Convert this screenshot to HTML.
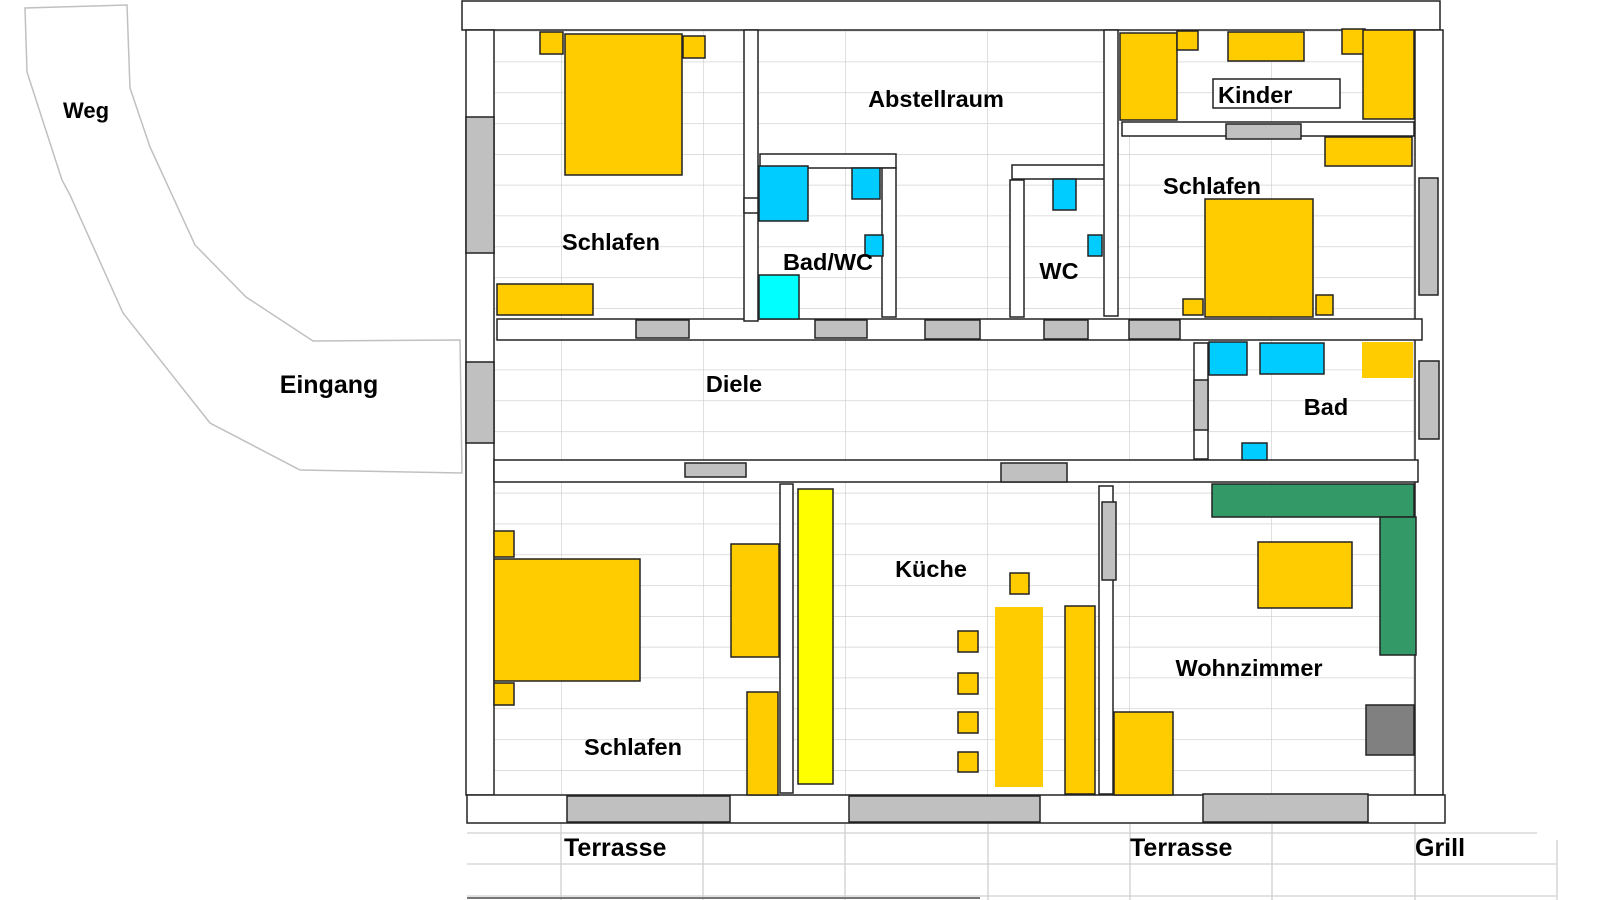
<!DOCTYPE html>
<html><head><meta charset="utf-8"><style>
html,body{margin:0;padding:0;background:#fff;}
svg{display:block;}
text{font-family:"Liberation Sans",Arial,sans-serif;font-weight:bold;fill:#000;}
</style></head><body>
<svg width="1600" height="900" viewBox="0 0 1600 900" xmlns="http://www.w3.org/2000/svg">
<defs>
<pattern id="g" x="419" y="0" width="142" height="30.8" patternUnits="userSpaceOnUse">
<path d="M0 0V30.8M0 0H142" stroke="#cbcbcb" stroke-width="1.2" fill="none"/>
</pattern>
</defs>
<rect x="494" y="30" width="921" height="765" fill="url(#g)"/>
<g stroke="#d0d0d0" stroke-width="1.3">
<line x1="467" y1="833" x2="1537" y2="833"/>
<line x1="467" y1="864" x2="1557" y2="864"/>
<line x1="467" y1="896" x2="1557" y2="896"/>
<line x1="561" y1="823" x2="561" y2="900"/>
<line x1="703" y1="823" x2="703" y2="900"/>
<line x1="845" y1="823" x2="845" y2="900"/>
<line x1="988" y1="823" x2="988" y2="900"/>
<line x1="1130" y1="823" x2="1130" y2="900"/>
<line x1="1272" y1="823" x2="1272" y2="900"/>
<line x1="1415" y1="823" x2="1415" y2="900"/>
<line x1="1557" y1="840" x2="1557" y2="900"/>
</g>
<line x1="467" y1="898" x2="980" y2="898" stroke="#777" stroke-width="2"/>
<path d="M25 8 L27 72 L62 180 L70 195 L123 313 L210 423 L300 470 L462 473 L460 340 L313 341 L246 297 L195 245 L150 147 L130 88 L127 5 Z" fill="none" stroke="#c0c0c0" stroke-width="1.5"/>
<g stroke="#222" stroke-width="1.5">
<rect x="462" y="1" width="978" height="29" fill="#fff"/>
<rect x="466" y="30" width="28" height="765" fill="#fff"/>
<rect x="1415" y="30" width="28" height="765" fill="#fff"/>
<rect x="467" y="795" width="978" height="28" fill="#fff"/>
<rect x="466" y="117" width="28" height="136" fill="#c0c0c0"/>
<rect x="466" y="362" width="28" height="81" fill="#c0c0c0"/>
<rect x="1419" y="178" width="19" height="117" fill="#c0c0c0"/>
<rect x="1419" y="361" width="20" height="78" fill="#c0c0c0"/>
<rect x="567" y="796" width="163" height="26" fill="#c0c0c0"/>
<rect x="849" y="796" width="191" height="26" fill="#c0c0c0"/>
<rect x="1203" y="794" width="165" height="28" fill="#c0c0c0"/>
<rect x="497" y="319" width="925" height="21" fill="#fff"/>
<rect x="494" y="460" width="924" height="22" fill="#fff"/>
<rect x="744" y="30" width="14" height="291" fill="#fff"/>
<rect x="744" y="198" width="14" height="15" fill="#fff"/>
<rect x="760" y="154" width="136" height="14" fill="#fff"/>
<rect x="882" y="168" width="14" height="149" fill="#fff"/>
<rect x="1012" y="165" width="94" height="14" fill="#fff"/>
<rect x="1010" y="180" width="14" height="137" fill="#fff"/>
<rect x="1104" y="30" width="14" height="286" fill="#fff"/>
<rect x="1122" y="122" width="292" height="14" fill="#fff"/>
<rect x="1194" y="343" width="14" height="116" fill="#fff"/>
<rect x="1194" y="380" width="14" height="50" fill="#c0c0c0"/>
<rect x="780" y="484" width="13" height="309" fill="#fff"/>
<rect x="1099" y="486" width="14" height="308" fill="#fff"/>
<rect x="1102" y="502" width="14" height="78" fill="#c0c0c0"/>
<rect x="636" y="320" width="53" height="18" fill="#c0c0c0"/>
<rect x="815" y="320" width="52" height="18" fill="#c0c0c0"/>
<rect x="925" y="320" width="55" height="19" fill="#c0c0c0"/>
<rect x="1044" y="320" width="44" height="19" fill="#c0c0c0"/>
<rect x="1129" y="320" width="51" height="19" fill="#c0c0c0"/>
<rect x="1226" y="124" width="75" height="15" fill="#c0c0c0"/>
<rect x="685" y="463" width="61" height="14" fill="#c0c0c0"/>
<rect x="1001" y="463" width="66" height="19" fill="#c0c0c0"/>
<rect x="565" y="34" width="117" height="141" fill="#ffcc00"/>
<rect x="540" y="32" width="23" height="22" fill="#ffcc00"/>
<rect x="683" y="36" width="22" height="22" fill="#ffcc00"/>
<rect x="497" y="284" width="96" height="31" fill="#ffcc00"/>
<rect x="759" y="166" width="49" height="55" fill="#00ccff"/>
<rect x="852" y="168" width="28" height="31" fill="#00ccff"/>
<rect x="865" y="235" width="18" height="21" fill="#00ccff"/>
<rect x="759" y="275" width="40" height="44" fill="#00ffff"/>
<rect x="1053" y="179" width="23" height="31" fill="#00ccff"/>
<rect x="1088" y="235" width="14" height="21" fill="#00ccff"/>
<rect x="1120" y="33" width="57" height="87" fill="#ffcc00"/>
<rect x="1177" y="31" width="21" height="19" fill="#ffcc00"/>
<rect x="1228" y="32" width="76" height="29" fill="#ffcc00"/>
<rect x="1342" y="29" width="23" height="25" fill="#ffcc00"/>
<rect x="1363" y="30" width="51" height="89" fill="#ffcc00"/>
<rect x="1213" y="79" width="127" height="29" fill="#fff"/>
<rect x="1325" y="137" width="87" height="29" fill="#ffcc00"/>
<rect x="1205" y="199" width="108" height="118" fill="#ffcc00"/>
<rect x="1183" y="299" width="20" height="16" fill="#ffcc00"/>
<rect x="1316" y="295" width="17" height="20" fill="#ffcc00"/>
<rect x="1209" y="342" width="38" height="33" fill="#00ccff"/>
<rect x="1260" y="343" width="64" height="31" fill="#00ccff"/>
<rect x="1242" y="443" width="25" height="17" fill="#00ccff"/>
<rect x="494" y="531" width="20" height="26" fill="#ffcc00"/>
<rect x="494" y="559" width="146" height="122" fill="#ffcc00"/>
<rect x="494" y="683" width="20" height="22" fill="#ffcc00"/>
<rect x="731" y="544" width="48" height="113" fill="#ffcc00"/>
<rect x="747" y="692" width="31" height="103" fill="#ffcc00"/>
<rect x="798" y="489" width="35" height="295" fill="#ffff00"/>
<rect x="1010" y="573" width="19" height="21" fill="#ffcc00"/>
<rect x="958" y="631" width="20" height="21" fill="#ffcc00"/>
<rect x="958" y="673" width="20" height="21" fill="#ffcc00"/>
<rect x="958" y="712" width="20" height="21" fill="#ffcc00"/>
<rect x="958" y="752" width="20" height="20" fill="#ffcc00"/>
<rect x="1065" y="606" width="30" height="188" fill="#ffcc00"/>
<rect x="1212" y="484" width="202" height="33" fill="#339966"/>
<rect x="1380" y="517" width="36" height="138" fill="#339966"/>
<rect x="1258" y="542" width="94" height="66" fill="#ffcc00"/>
<rect x="1366" y="705" width="48" height="50" fill="#808080"/>
<rect x="1114" y="712" width="59" height="83" fill="#ffcc00"/>
</g>
<rect x="1362" y="342" width="51" height="36" fill="#ffcc00"/>
<rect x="995" y="607" width="48" height="180" fill="#ffcc00"/>
<g font-size="23.5">
<text x="86" y="118" text-anchor="middle" font-size="22">Weg</text>
<text x="329" y="393" text-anchor="middle" font-size="25">Eingang</text>
<text x="936" y="107" text-anchor="middle">Abstellraum</text>
<text x="611" y="250" text-anchor="middle">Schlafen</text>
<text x="828" y="270" text-anchor="middle">Bad/WC</text>
<text x="1059" y="279" text-anchor="middle">WC</text>
<text x="1218" y="103">Kinder</text>
<text x="1212" y="194" text-anchor="middle">Schlafen</text>
<text x="734" y="392" text-anchor="middle">Diele</text>
<text x="1326" y="415" text-anchor="middle">Bad</text>
<text x="931" y="577" text-anchor="middle">Küche</text>
<text x="1249" y="676" text-anchor="middle">Wohnzimmer</text>
<text x="633" y="755" text-anchor="middle">Schlafen</text>
<text x="564" y="856" font-size="25">Terrasse</text>
<text x="1130" y="856" font-size="25">Terrasse</text>
<text x="1415" y="856" font-size="25">Grill</text>
</g>
</svg>
</body></html>
